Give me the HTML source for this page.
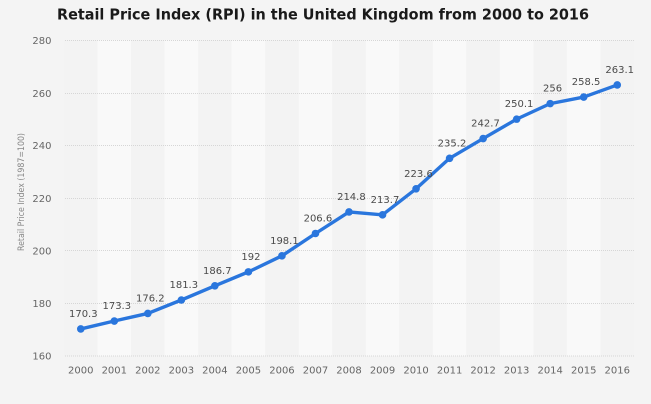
<!DOCTYPE html>
<html><head><meta charset="utf-8"><style>
html,body{margin:0;padding:0;background:#f4f4f4;}
svg{display:block;}
text{font-family:"DejaVu Sans","Liberation Sans",sans-serif;}
</style></head><body>
<svg width="651" height="404" viewBox="0 0 651 404" xmlns="http://www.w3.org/2000/svg">
<rect x="0" y="0" width="651" height="404" fill="#f4f4f4"/>
<text x="323" y="19.5" text-anchor="middle" font-size="15" font-weight="bold" fill="#1a1a1a" textLength="532" lengthAdjust="spacingAndGlyphs">Retail Price Index (RPI) in the United Kingdom from 2000 to 2016</text>
<g>
<rect x="64" y="40" width="33.53" height="316" fill="#f3f3f3"/>
<rect x="97.53" y="40" width="33.53" height="316" fill="#f9f9f9"/>
<rect x="131.06" y="40" width="33.53" height="316" fill="#f3f3f3"/>
<rect x="164.59" y="40" width="33.53" height="316" fill="#f9f9f9"/>
<rect x="198.12" y="40" width="33.53" height="316" fill="#f3f3f3"/>
<rect x="231.65" y="40" width="33.53" height="316" fill="#f9f9f9"/>
<rect x="265.18" y="40" width="33.53" height="316" fill="#f3f3f3"/>
<rect x="298.71" y="40" width="33.53" height="316" fill="#f9f9f9"/>
<rect x="332.24" y="40" width="33.53" height="316" fill="#f3f3f3"/>
<rect x="365.77" y="40" width="33.53" height="316" fill="#f9f9f9"/>
<rect x="399.30" y="40" width="33.53" height="316" fill="#f3f3f3"/>
<rect x="432.83" y="40" width="33.53" height="316" fill="#f9f9f9"/>
<rect x="466.36" y="40" width="33.53" height="316" fill="#f3f3f3"/>
<rect x="499.89" y="40" width="33.53" height="316" fill="#f9f9f9"/>
<rect x="533.42" y="40" width="33.53" height="316" fill="#f3f3f3"/>
<rect x="566.95" y="40" width="33.53" height="316" fill="#f9f9f9"/>
<rect x="600.48" y="40" width="33.53" height="316" fill="#f3f3f3"/>
</g>
<g stroke="#d6d6d6" stroke-width="1" stroke-dasharray="1,1">
<line x1="65" x2="635" y1="40.5" y2="40.5"/>
<line x1="65" x2="635" y1="93.5" y2="93.5"/>
<line x1="65" x2="635" y1="145.5" y2="145.5"/>
<line x1="65" x2="635" y1="198.5" y2="198.5"/>
<line x1="65" x2="635" y1="250.5" y2="250.5"/>
<line x1="65" x2="635" y1="303.5" y2="303.5"/>
<line x1="65" x2="635" y1="356" y2="356"/>
</g>
<g font-size="10" fill="#666" text-anchor="end">
<text x="51.5" y="44">280</text>
<text x="51.5" y="97">260</text>
<text x="51.5" y="149.2">240</text>
<text x="51.5" y="202">220</text>
<text x="51.5" y="254.3">200</text>
<text x="51.5" y="307.2">180</text>
<text x="51.5" y="359.5">160</text>
</g>
<text transform="translate(24,192) rotate(-90)" text-anchor="middle" font-size="8.5" fill="#888" font-family="Liberation Sans, sans-serif" textLength="118" lengthAdjust="spacingAndGlyphs">Retail Price Index (1987=100)</text>
<g font-size="10" fill="#666" text-anchor="middle">
<text x="80.77" y="373.3">2000</text>
<text x="114.30" y="373.3">2001</text>
<text x="147.83" y="373.3">2002</text>
<text x="181.36" y="373.3">2003</text>
<text x="214.89" y="373.3">2004</text>
<text x="248.42" y="373.3">2005</text>
<text x="281.95" y="373.3">2006</text>
<text x="315.48" y="373.3">2007</text>
<text x="349.01" y="373.3">2008</text>
<text x="382.54" y="373.3">2009</text>
<text x="416.07" y="373.3">2010</text>
<text x="449.60" y="373.3">2011</text>
<text x="483.13" y="373.3">2012</text>
<text x="516.66" y="373.3">2013</text>
<text x="550.19" y="373.3">2014</text>
<text x="583.72" y="373.3">2015</text>
<text x="617.25" y="373.3">2016</text>
</g>
<polyline fill="none" stroke="#2a76dd" stroke-width="3.4" stroke-linejoin="round" stroke-linecap="round" points="80.77,328.92 114.30,321.03 147.83,313.41 181.36,300.00 214.89,285.81 248.42,271.87 281.95,255.84 315.48,233.49 349.01,211.93 382.54,214.82 416.07,188.80 449.60,158.30 483.13,138.58 516.66,119.13 550.19,103.62 583.72,97.04 617.25,84.95"/>
<g fill="#2a76dd">
<circle cx="80.77" cy="328.92" r="3.8"/>
<circle cx="114.30" cy="321.03" r="3.8"/>
<circle cx="147.83" cy="313.41" r="3.8"/>
<circle cx="181.36" cy="300.00" r="3.8"/>
<circle cx="214.89" cy="285.81" r="3.8"/>
<circle cx="248.42" cy="271.87" r="3.8"/>
<circle cx="281.95" cy="255.84" r="3.8"/>
<circle cx="315.48" cy="233.49" r="3.8"/>
<circle cx="349.01" cy="211.93" r="3.8"/>
<circle cx="382.54" cy="214.82" r="3.8"/>
<circle cx="416.07" cy="188.80" r="3.8"/>
<circle cx="449.60" cy="158.30" r="3.8"/>
<circle cx="483.13" cy="138.58" r="3.8"/>
<circle cx="516.66" cy="119.13" r="3.8"/>
<circle cx="550.19" cy="103.62" r="3.8"/>
<circle cx="583.72" cy="97.04" r="3.8"/>
<circle cx="617.25" cy="84.95" r="3.8"/>
</g>
<g font-size="10" fill="#4a4a4a" text-anchor="middle">
<text x="83.3" y="317">170.3</text>
<text x="116.8" y="309.1">173.3</text>
<text x="150.3" y="301.5">176.2</text>
<text x="183.8" y="288.1">181.3</text>
<text x="217.3" y="273.9">186.7</text>
<text x="250.9" y="260">192</text>
<text x="284.4" y="243.9">198.1</text>
<text x="317.9" y="221.6">206.6</text>
<text x="351.4" y="200">214.8</text>
<text x="385" y="202.9">213.7</text>
<text x="418.5" y="176.9">223.6</text>
<text x="452" y="146.4">235.2</text>
<text x="485.5" y="126.7">242.7</text>
<text x="519.1" y="107.2">250.1</text>
<text x="552.6" y="91.7">256</text>
<text x="586.1" y="85.1">258.5</text>
<text x="619.7" y="73">263.1</text>
</g>
</svg>
</body></html>
